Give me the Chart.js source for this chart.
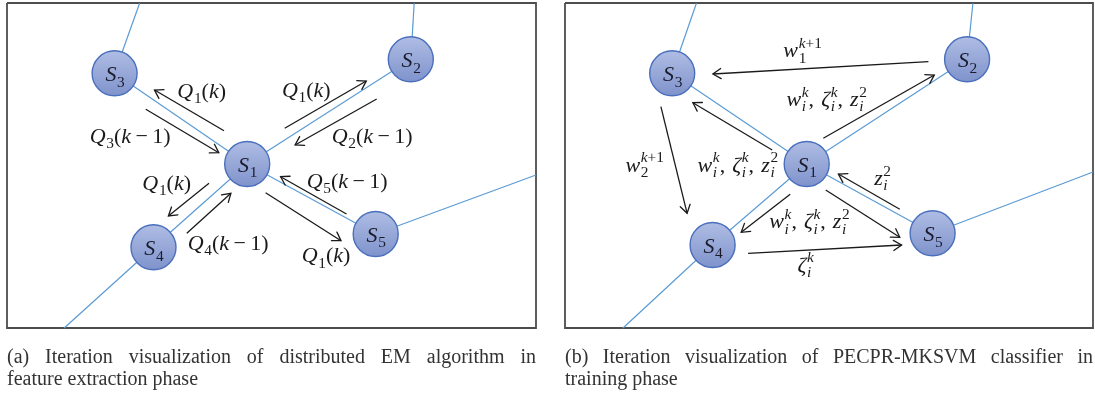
<!DOCTYPE html>
<html>
<head>
<meta charset="utf-8">
<script src="https://cdn.jsdelivr.net/npm/chart.js@4.4.1/dist/chart.umd.min.js"></script>
<style>
  html, body { margin: 0; padding: 0; background: #fff; }
  #wrap { width: 1095px; height: 398px; position: relative; }
</style>
</head>
<body>
<div id="wrap"><canvas id="c"></canvas></div>
<script>
// ---- node names (same five sites in both panels) ----
const nodeNames = ['S_1', 'S_2', 'S_3', 'S_4', 'S_5'];

// ---- panel (a): distributed EM ----
const nodeAX = [247.2, 410.8, 114.6, 153.5, 375.7];
const nodeAY = [164.0, 59.3, 73.3, 247.3, 234.0];
const linksA = [[0, 1], [0, 2], [0, 3], [0, 4]];
// links running out of the frame: [node, x, y]
const stubsA = [[2, 139.6, 3.3], [1, 414.2, 3.3], [4, 536, 175], [3, 64.2, 328]];
// message arrows: [x1, y1, x2, y2], head at (x2, y2)
const arrowsA = [
  [224.0, 130.7, 154.5, 90.0],
  [145.8, 109.3, 218.8, 152.7],
  [284.7, 128.3, 366.3, 81.0],
  [376.7, 99.0, 295.1, 145.0],
  [209.0, 183.3, 168.4, 216.0],
  [186.8, 233.3, 230.9, 193.3],
  [346.5, 214.0, 280.6, 176.7],
  [265.6, 192.7, 341.0, 240.7]
];
const labelTextA = ['Q_1(k)', 'Q_3(k − 1)', 'Q_1(k)', 'Q_2(k − 1)', 'Q_1(k)', 'Q_4(k − 1)', 'Q_5(k − 1)', 'Q_1(k)'];
const labelXA = [201.7, 130.2, 306.3, 372.2, 166.7, 228.1, 347.2, 326.0];
const labelYA = [98.0, 143.0, 96.5, 143.0, 189.7, 249.7, 188.0, 262.3];
const frameA = [7, 3, 536, 328];
const captionA = ['(a) Iteration visualization of distributed EM algorithm in', 'feature extraction phase'];

// ---- panel (b): PECPR-MKSVM training ----
const nodeBX = [806.7, 967.1, 672.2, 712.6, 932.6];
const nodeBY = [164.0, 59.3, 73.3, 245.0, 233.3];
const linksB = [[0, 1], [0, 2], [0, 3], [0, 4]];
const stubsB = [[2, 696.4, 3.3], [1, 972.9, 3.3], [4, 1093, 172], [3, 623, 328]];
const arrowsB = [
  [928.4, 61.7, 712.9, 74.0],
  [823.3, 138.3, 934.3, 75.0],
  [772.2, 150.0, 692.9, 102.7],
  [660.9, 106.7, 687.1, 213.3],
  [790.2, 194.3, 741.2, 232.3],
  [825.7, 190.0, 899.8, 237.3],
  [899.8, 209.3, 838.4, 174.0],
  [748.1, 253.3, 901.6, 245.0]
];
const labelTextB = ['w_1^{k+1}', 'w_i^k, ζ_i^k, z_i^2', 'w_i^k, ζ_i^k, z_i^2', 'w_2^{k+1}', 'z_i^2', 'w_i^k, ζ_i^k, z_i^2', 'ζ_i^k'];
const labelXB = [802.6, 826.7, 737.8, 644.7, 882.6, 809.5, 805.7];
const labelYB = [57.3, 106.0, 171.7, 171.7, 185.0, 228.3, 271.7];
const frameB = [565, 3, 1093, 328];
const captionB = ['(b) Iteration visualization of PECPR-MKSVM classifier in', 'training phase'];

// ---- styling ----
const R = 22.5;
const SERIF = '"Liberation Serif", "DejaVu Serif", serif';
const LINK = '#5b9bd5';
const INK = '#1a1a1a';

const pts = (xs, ys) => xs.map((x, i) => ({ x, y: ys[i] }));
const seg = (data, color, width, order) => ({
  data, showLine: true, borderColor: color, borderWidth: width,
  pointRadius: 0, pointHoverRadius: 0, pointHitRadius: 0, fill: false, tension: 0, order
});
const frameData = f => [
  { x: f[0], y: f[1] }, { x: f[2], y: f[1] }, { x: f[2], y: f[3] }, { x: f[0], y: f[3] }, { x: f[0], y: f[1] }
];

function panelSets(nx, ny, links, stubs, arrows, frame) {
  const sets = [];
  sets.push({
    data: pts(nx, ny), showLine: false, pointRadius: R, pointHoverRadius: R,
    pointBorderColor: '#4a6fbc', pointBorderWidth: 1.4, order: 0,
    pointBackgroundColor: ctx => {
      const ch = ctx.chart;
      if (ctx.type !== 'data' || !ch.scales || !ch.scales.y) return '#93a5d8';
      const cy = ch.scales.y.getPixelForValue(ctx.raw.y);
      if (!isFinite(cy)) return '#93a5d8';
      const g = ch.ctx.createLinearGradient(0, cy - R, 0, cy + R);
      g.addColorStop(0, '#afbde4');
      g.addColorStop(1, '#7f93cc');
      return g;
    }
  });
  arrows.forEach(a => sets.push(Object.assign(seg([{ x: a[0], y: a[1] }, { x: a[2], y: a[3] }], INK, 1.3, 1), { arrow: true })));
  links.forEach(l => sets.push(seg([{ x: nx[l[0]], y: ny[l[0]] }, { x: nx[l[1]], y: ny[l[1]] }], LINK, 1.2, 2)));
  stubs.forEach(s => sets.push(seg([{ x: nx[s[0]], y: ny[s[0]] }, { x: s[1], y: s[2] }], LINK, 1.2, 2)));
  sets.push(seg(frameData(frame), '#4d4d4d', 1.8, 3));
  return sets;
}

// ---- tiny math typesetter: x_a^b with italic letters ----
function parseMath(s) {
  const out = []; let i = 0;
  const group = () => {
    if (s[i] === '{') { const j = s.indexOf('}', i); const g = s.slice(i + 1, j); i = j + 1; return g; }
    return s[i++];
  };
  while (i < s.length) {
    const c = s[i];
    if (c === '_' || c === '^') {
      i++;
      const g = group();
      let last = out[out.length - 1];
      if (!last || last.kind !== 'script') { last = { kind: 'script', sub: null, sup: null }; out.push(last); }
      if (c === '_') last.sub = g; else last.sup = g;
    } else { out.push({ kind: 'base', t: c }); i++; }
  }
  return out;
}
const fontFor = (ch, size) => (/[A-Za-z\u03b1-\u03c9]/.test(ch) ? 'italic ' : '') + size + 'px ' + SERIF;

function layoutMath(ctx, str, size) {
  const items = []; let x = 0; let prev = '';
  const small = size * 0.7;
  for (const tok of parseMath(str)) {
    if (tok.kind === 'base') {
      if (tok.t === ' ') { x += size * (prev === ',' ? 0.32 : 0.2); prev = ' '; continue; }
      const f = fontFor(tok.t, size); ctx.font = f;
      items.push({ t: tok.t, f, x, dy: 0 });
      x += ctx.measureText(tok.t).width;
      prev = tok.t;
    } else {
      let wmax = 0;
      for (const [g, dy] of [[tok.sub, size * 0.24], [tok.sup, -size * 0.42]]) {
        if (g == null) continue;
        let xx = x + size * 0.03;
        for (const ch of g) {
          const f = fontFor(ch, small); ctx.font = f;
          items.push({ t: ch, f, x: xx, dy });
          xx += ctx.measureText(ch).width;
        }
        wmax = Math.max(wmax, xx - x);
      }
      x += wmax;
      prev = '';
    }
  }
  return { items, width: x };
}
function drawMath(ctx, str, cx, base, size, color) {
  const L = layoutMath(ctx, str, size);
  const x0 = cx - L.width / 2;
  ctx.fillStyle = color;
  ctx.textBaseline = 'alphabetic';
  ctx.textAlign = 'left';
  for (const it of L.items) { ctx.font = it.f; ctx.fillText(it.t, x0 + it.x, base + it.dy); }
}

// justified caption line between two x positions
function drawJustified(ctx, text, x0, x1, base) {
  const words = text.split(' ');
  const ws = words.map(w => ctx.measureText(w).width);
  const total = ws.reduce((a, b) => a + b, 0);
  const gap = words.length > 1 ? (x1 - x0 - total) / (words.length - 1) : 0;
  let x = x0;
  words.forEach((w, i) => { ctx.fillText(w, x, base); x += ws[i] + gap; });
}

const overlay = {
  id: 'overlay',
  afterDatasetsDraw(chart) {
    const ctx = chart.ctx;
    const X = v => chart.scales.x.getPixelForValue(v);
    const Y = v => chart.scales.y.getPixelForValue(v);
    ctx.save();
    // arrow heads
    chart.data.datasets.forEach(ds => {
      if (!ds.arrow) return;
      const a = ds.data[0], b = ds.data[1];
      const x1 = X(a.x), y1 = Y(a.y), x2 = X(b.x), y2 = Y(b.y);
      const ang = Math.atan2(y2 - y1, x2 - x1);
      const len = 9.5, spread = 0.56;
      ctx.strokeStyle = INK; ctx.lineWidth = 1.3; ctx.lineCap = 'round';
      ctx.beginPath();
      ctx.moveTo(x2 - len * Math.cos(ang - spread), y2 - len * Math.sin(ang - spread));
      ctx.lineTo(x2, y2);
      ctx.lineTo(x2 - len * Math.cos(ang + spread), y2 - len * Math.sin(ang + spread));
      ctx.stroke();
    });
    // node names
    [[nodeAX, nodeAY], [nodeBX, nodeBY]].forEach(([xs, ys]) => {
      xs.forEach((x, i) => drawMath(ctx, nodeNames[i], X(x) + 0.5, Y(ys[i]) + 8, 22, '#1a1a2a'));
    });
    // message labels
    labelTextA.forEach((t, i) => drawMath(ctx, t, X(labelXA[i]), Y(labelYA[i]), 22, INK));
    labelTextB.forEach((t, i) => drawMath(ctx, t, X(labelXB[i]), Y(labelYB[i]), 22, INK));
    // captions
    ctx.font = '20px ' + SERIF;
    ctx.fillStyle = '#333';
    ctx.textAlign = 'left';
    ctx.textBaseline = 'alphabetic';
    [[captionA, frameA], [captionB, frameB]].forEach(([cap, fr]) => {
      drawJustified(ctx, cap[0], X(fr[0]), X(fr[2]), Y(363));
      ctx.fillText(cap[1], X(fr[0]), Y(385));
    });
    ctx.restore();
  }
};

new Chart(document.getElementById('c'), {
  type: 'scatter',
  data: {
    datasets: [
      ...panelSets(nodeAX, nodeAY, linksA, stubsA, arrowsA, frameA),
      ...panelSets(nodeBX, nodeBY, linksB, stubsB, arrowsB, frameB)
    ]
  },
  options: {
    responsive: true,
    maintainAspectRatio: false,
    animation: false,
    events: [],
    layout: { padding: 0, autoPadding: false },
    scales: {
      x: { type: 'linear', min: 0, max: 1095, display: false },
      y: { type: 'linear', min: 0, max: 398, reverse: true, display: false }
    },
    plugins: { legend: { display: false }, tooltip: { enabled: false } }
  },
  plugins: [overlay]
});
</script>
</body>
</html>
